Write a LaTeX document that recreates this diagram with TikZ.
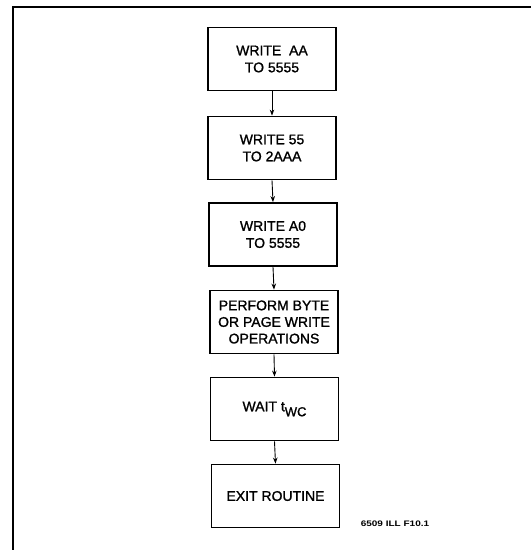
\documentclass[tikz,border=0pt]{standalone}
\usepackage{fontspec}
\setmainfont{Liberation Sans}
\newfontfamily\boxfont[FakeBold=1.2]{Liberation Sans}
\usetikzlibrary{arrows.meta}
\begin{document}
\begin{tikzpicture}[x=1pt,y=-1pt,
  stepbox/.style={draw,line width=1.8pt,minimum width=128pt,minimum height=63pt,
    inner sep=0pt,align=center,font=\boxfont\fontsize{14}{17}\selectfont},
  flow/.style={line width=0.9pt,-{Stealth[length=6pt,width=4.5pt]}},
  frame/.style={line width=1.6pt}]
\useasboundingbox (0,0) rectangle (531,550);
% open frame: top and left edges only
\coordinate (ftr) at (531,7);
\coordinate (ftl) at (13,7);
\coordinate (fbl) at (13,550);
\draw[frame] (ftr) -- (ftl) -- (fbl);
% process steps
\node[stepbox] (s1) at (272,59)  {WRITE\ \ AA\\TO 5555};
\node[stepbox] (s2) at (272,148) {WRITE 55\\TO 2AAA};
\node[stepbox] (s3) at (273,234.5) {WRITE A0\\TO 5555};
\node[stepbox,font=\boxfont\fontsize{14}{16.6}\selectfont] (s4) at (274,322) {PERFORM BYTE\\OR PAGE WRITE\\OPERATIONS};
\node[stepbox] (s5) at (274.5,409) {WAIT t\raisebox{-5pt}{\fontsize{13}{13}\selectfont WC}};
\node[stepbox] (s6) at (275.5,496) {EXIT ROUTINE};
% connectors
\foreach \a/\b in {s1/s2,s2/s3,s3/s4,s4/s5,s5/s6}
  \draw[flow] (\a.south) -- (\b.north);
% figure tag
\node[font=\bfseries\fontsize{8}{8}\selectfont,inner sep=0pt] (tag) at (395,524)
  {\scalebox{1.25}[1]{6509 ILL F10.1}};
\end{tikzpicture}
\end{document}
